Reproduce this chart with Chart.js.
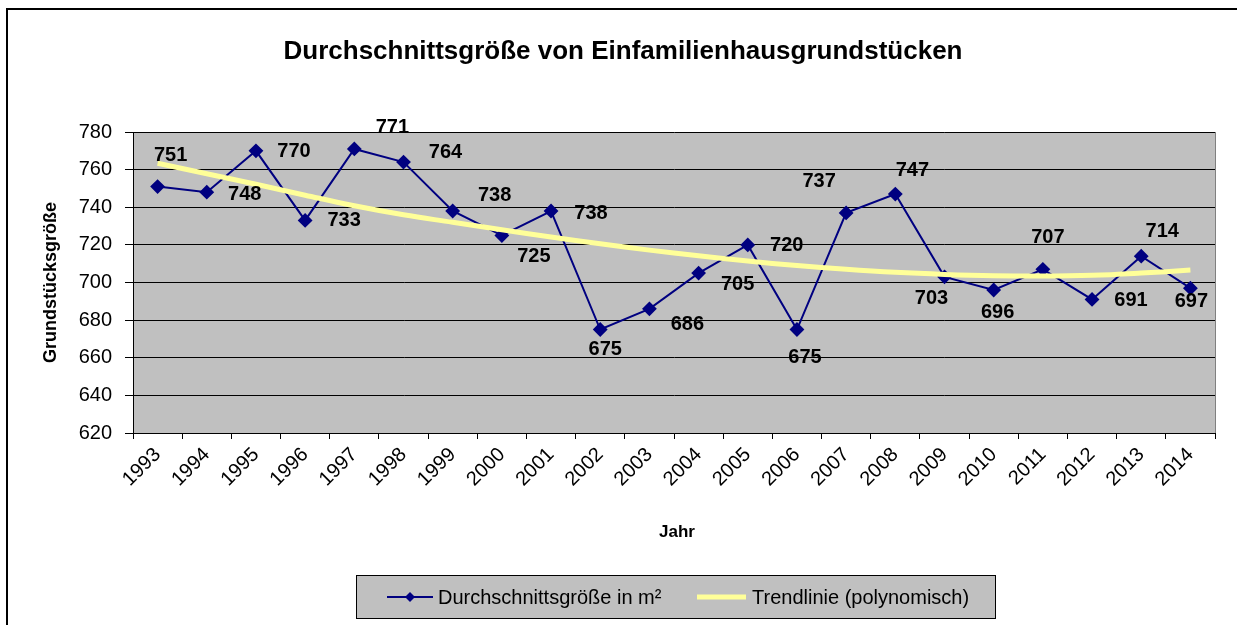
<!DOCTYPE html>
<html>
<head>
<meta charset="utf-8">
<title>Durchschnittsgröße von Einfamilienhausgrundstücken</title>
<script src="https://cdn.jsdelivr.net/npm/chart.js@4/dist/chart.umd.min.js"></script>
<style>
    html, body { margin: 0; padding: 0; background: #fff; }
    #wrap { width: 1237px; height: 625px; }
</style>
</head>
<body>
<div id="wrap"><canvas id="chart" width="1237" height="625"></canvas></div>
<script>
// data
var years = ['1993', '1994', '1995', '1996', '1997', '1998', '1999', '2000', '2001', '2002', '2003',
             '2004', '2005', '2006', '2007', '2008', '2009', '2010', '2011', '2012', '2013', '2014'];
var avgSize = [751, 748, 770, 733, 771, 764, 738, 725, 738, 675, 686,
               705, 720, 675, 737, 747, 703, 696, 707, 691, 714, 697];
var trendLine = [763.4, 757.8, 752.2, 746.4, 740.8, 736.0, 732.0, 728.0, 724.2, 720.6, 717.2,
                 714.2, 711.4, 709.0, 707.0, 705.4, 704.3, 703.6, 703.4, 703.8, 705.0, 706.6];
var yMin = 620, yMax = 780, yStep = 20;

// where each value label sits relative to its point (dx, dy)
var labelNudge = [[13, -31], [38, 2], [38, 1], [39, 0], [38, -21], [42, -10], [42, -16], [32, 21],
                  [40, 2], [5, 20], [38, 16], [39, 11], [39, 1], [8, 28], [-27, -31], [17, -24],
                  [-13, 22], [4, 22], [5, -32], [39, 1], [21, -25], [1, 13]];

var FONT = '"Liberation Sans", Arial, sans-serif';
var NAVY = '#000080';
var YELLOW = '#FFFF99';
var PLOT_BG = '#C0C0C0';

var framePlugin = {
    id: 'frame',
    beforeDraw: function(chart) {
        var c = chart.ctx, a = chart.chartArea;
        c.save();
        c.fillStyle = '#fff';
        c.fillRect(0, 0, chart.width, chart.height);
        // outer frame (left + top edge)
        c.strokeStyle = '#000';
        c.lineWidth = 2;
        c.beginPath();
        c.moveTo(7, chart.height);
        c.lineTo(7, 9);
        c.lineTo(chart.width, 9);
        c.stroke();
        c.fillStyle = PLOT_BG;
        c.fillRect(a.left, a.top, a.right - a.left, a.bottom - a.top);
        c.restore();
    },
    afterDraw: function(chart) {
        var c = chart.ctx, a = chart.chartArea;
        c.save();
        // right edge of plot
        c.strokeStyle = '#808080';
        c.lineWidth = 1;
        c.beginPath();
        c.moveTo(a.right + 0.5, a.top);
        c.lineTo(a.right + 0.5, a.bottom);
        c.stroke();

        // title
        c.fillStyle = '#000';
        c.textAlign = 'center';
        c.textBaseline = 'middle';
        c.font = 'bold 26px ' + FONT;
        c.fillText('Durchschnittsgröße von Einfamilienhausgrundstücken', 623, 52);

        // axis titles
        c.font = 'bold 17px ' + FONT;
        c.fillText('Jahr', 677, 532);
        c.font = 'bold 18px ' + FONT;
        c.translate(51, (a.top + a.bottom) / 2);
        c.rotate(-Math.PI / 2);
        c.fillText('Grundstücksgröße', 0, 0);
        c.restore();

        // legend
        var ds = chart.data.datasets;
        c.save();
        c.fillStyle = PLOT_BG;
        c.fillRect(356, 575, 639, 43);
        c.strokeStyle = '#000';
        c.lineWidth = 1;
        c.strokeRect(356.5, 575.5, 639, 43);
        var ly = 597;
        c.strokeStyle = ds[1].borderColor;
        c.lineWidth = 2;
        c.beginPath(); c.moveTo(387, ly); c.lineTo(433, ly); c.stroke();
        c.fillStyle = ds[1].borderColor;
        c.beginPath();
        c.moveTo(410, ly - 5); c.lineTo(415, ly); c.lineTo(410, ly + 5); c.lineTo(405, ly);
        c.closePath(); c.fill();
        c.strokeStyle = ds[0].borderColor;
        c.lineWidth = 5;
        c.beginPath(); c.moveTo(697, ly); c.lineTo(746, ly); c.stroke();
        c.fillStyle = '#000';
        c.font = '20px ' + FONT;
        c.textAlign = 'left';
        c.textBaseline = 'middle';
        c.fillText(ds[1].label, 438, ly + 1);
        c.fillText(ds[0].label, 752, ly + 1);
        c.restore();
    }
};

var valueLabels = {
    id: 'valueLabels',
    afterDatasetsDraw: function(chart) {
        var c = chart.ctx;
        var meta = chart.getDatasetMeta(1);
        c.save();
        c.fillStyle = '#000';
        c.font = 'bold 20px ' + FONT;
        c.textAlign = 'center';
        c.textBaseline = 'middle';
        meta.data.forEach(function(pt, i) {
            var n = labelNudge[i];
            c.fillText(String(avgSize[i]), pt.x + n[0], pt.y + n[1]);
        });
        c.restore();
    }
};

new Chart(document.getElementById('chart'), {
    type: 'line',
    data: {
        labels: years,
        datasets: [{
            label: 'Trendlinie (polynomisch)',
            data: trendLine,
            borderColor: YELLOW,
            borderWidth: 5,
            pointRadius: 0,
            tension: 0.4,
            order: 0
        }, {
            label: 'Durchschnittsgröße in m²',
            data: avgSize,
            borderColor: NAVY,
            backgroundColor: NAVY,
            borderWidth: 2,
            pointStyle: 'rectRot',
            pointRadius: 6,
            pointBackgroundColor: NAVY,
            pointBorderColor: NAVY,
            tension: 0,
            order: 1
        }]
    },
    options: {
        responsive: false,
        animation: false,
        events: [],
        layout: { padding: { top: 132, right: 22, bottom: 0, left: 0 } },
        plugins: {
            legend: { display: false },
            title: { display: false },
            tooltip: { enabled: false }
        },
        scales: {
            x: {
                offset: true,
                afterFit: function(s) { s.height = 192; },
                grid: { offset: true, drawOnChartArea: false, drawTicks: true, tickLength: 6, color: '#000' },
                border: { color: '#000', width: 1 },
                ticks: {
                    color: '#000',
                    font: { family: FONT, size: 20 },
                    minRotation: 45,
                    maxRotation: 45,
                    autoSkip: false,
                    padding: 4
                }
            },
            y: {
                min: yMin,
                max: yMax,
                afterFit: function(s) { s.width = 133; },
                grid: { color: '#000', lineWidth: 1, tickLength: 8 },
                border: { color: '#000', width: 1 },
                ticks: {
                    stepSize: yStep,
                    color: '#000',
                    padding: 13,
                    font: { family: FONT, size: 20 }
                }
            }
        }
    },
    plugins: [framePlugin, valueLabels]
});
</script>
</body>
</html>
